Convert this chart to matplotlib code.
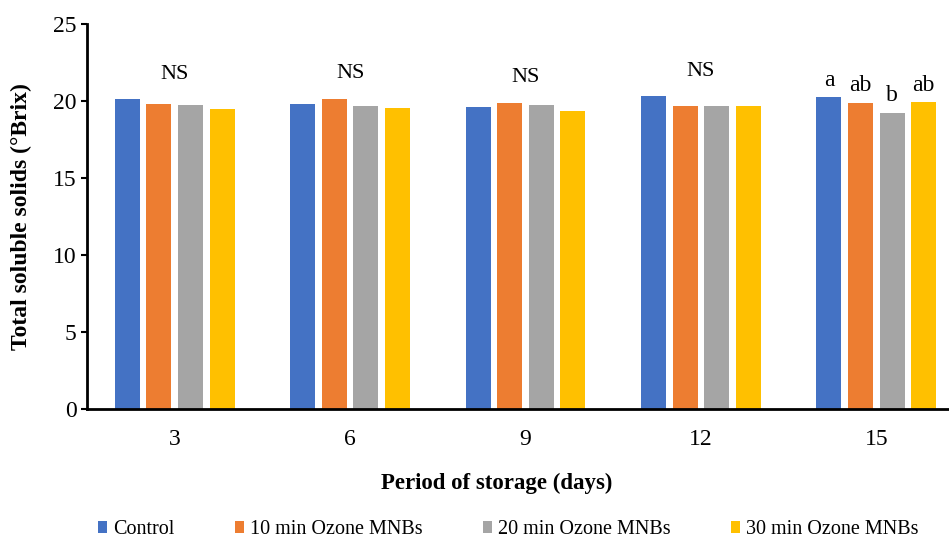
import numpy as np
import matplotlib.pyplot as plt

# storage days and treatment series (TSS, °Brix)
days = ["3", "6", "9", "12", "15"]
series_names = ["Control", "10 min Ozone MNBs", "20 min Ozone MNBs", "30 min Ozone MNBs"]
control = [20.11, 19.81, 19.60, 20.33, 20.25]
ozone_10 = [19.81, 20.16, 19.90, 19.68, 19.90]
ozone_20 = [19.73, 19.68, 19.75, 19.68, 19.25]
ozone_30 = [19.47, 19.53, 19.38, 19.68, 19.96]
group_labels = ["NS", "NS", "NS", "NS", None]
day15_letters = ["a", "ab", "b", "ab"]

colors = ["#4472C4", "#ED7D31", "#A5A5A5", "#FFC000"]


def main():
    plt.rcParams["font.family"] = ["Liberation Serif", "DejaVu Serif"]
    fig = plt.figure(figsize=(9.49, 5.4), dpi=100)
    # axes run slightly past the right edge like the cropped original
    ax = fig.add_axes([87 / 949, 0.242, 877 / 949, 0.7135])

    x = np.arange(len(days))
    pitch = 0.18
    width = 0.143
    all_series = [control, ozone_10, ozone_20, ozone_30]
    for i, (vals, name, c) in enumerate(zip(all_series, series_names, colors)):
        pos = x + (i - 1.5) * pitch
        ax.bar(pos, vals, width, color=c, label=name)
        # significance letters for day 15
        ax.text(pos[-1], vals[-1] + 0.4, day15_letters[i], ha="center",
                va="bottom", fontsize=17)

    for j, lab in enumerate(group_labels):
        if lab:
            top = max(s[j] for s in all_series)
            ax.text(x[j], top + 1.0, lab, ha="center", va="bottom", fontsize=16)

    ax.set_xlim(-0.5, len(days) - 0.5)
    ax.set_ylim(0, 25)
    ax.set_yticks([0, 5, 10, 15, 20, 25])
    ax.set_xticks(x)
    ax.set_xticklabels(days)
    ax.tick_params(axis="y", labelsize=17, length=4, width=1.5, direction="out")
    ax.tick_params(axis="x", labelsize=17, length=0, pad=14)
    for s in ["top", "right"]:
        ax.spines[s].set_visible(False)
    ax.spines["left"].set_linewidth(2)
    ax.spines["bottom"].set_linewidth(2)

    ax.set_ylabel("Total soluble solids (°Brix)", fontsize=17, fontweight="bold")
    ax.yaxis.set_label_coords(-0.063, 0.5)
    ax.set_xlabel("Period of storage (days)", fontsize=16.5, fontweight="bold")
    ax.xaxis.set_label_coords(0.4675, -0.191)
    ax.xaxis.label.set_va("center")

    fig.legend(loc="center", bbox_to_anchor=(508 / 949, 1 - 530 / 540), ncol=4,
               frameon=False, prop={"family": "Liberation Serif", "size": 14.5},
               handlelength=0.45, handleheight=0.55, handletextpad=0.3,
               columnspacing=3.0)

    fig.savefig("out.png", dpi=100)


if __name__ == "__main__":
    main()
